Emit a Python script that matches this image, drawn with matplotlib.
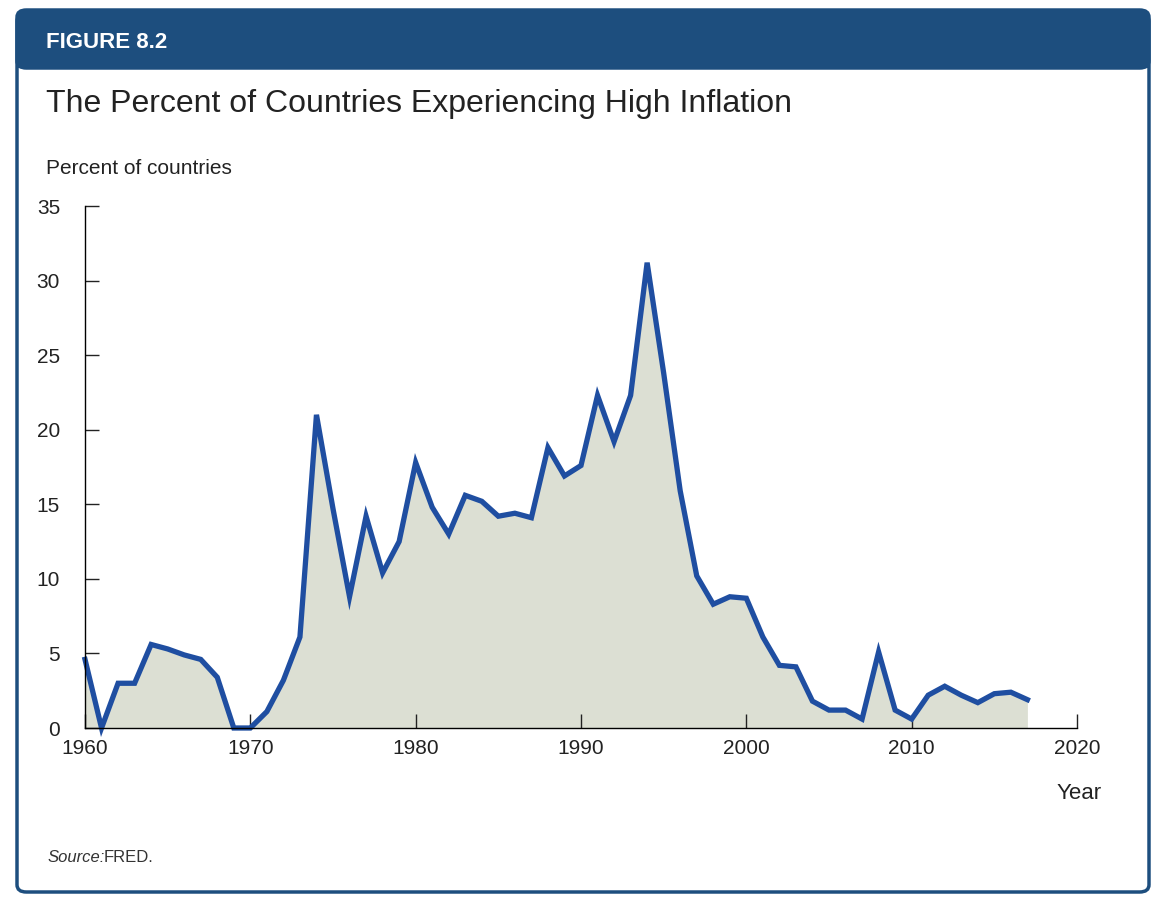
import matplotlib.pyplot as plt
from matplotlib.patches import FancyBboxPatch, Rectangle

plt.rcParams["font.family"] = ["Liberation Sans", "DejaVu Sans"]

years = list(range(1960, 2018))
pct = [4.6, 0.0, 3.0, 3.0, 5.6, 5.3, 4.9, 4.6, 3.4, 0.0,
       0.0, 1.1, 3.2, 6.1, 21.0, 14.7, 8.8, 14.2, 10.4, 12.5,
       17.8, 14.8, 13.0, 15.6, 15.2, 14.2, 14.4, 14.1, 18.8, 16.9,
       17.6, 22.3, 19.2, 22.3, 31.2, 23.8, 15.9, 10.2, 8.3, 8.8,
       8.7, 6.1, 4.2, 4.1, 1.8, 1.2, 1.2, 0.6, 5.1, 1.2,
       0.6, 2.2, 2.8, 2.2, 1.7, 2.3, 2.4, 1.9]
xticks = [1960, 1970, 1980, 1990, 2000, 2010, 2020]
yticks = [0, 5, 10, 15, 20, 25, 30, 35]

W, H = 1172, 902
fig = plt.figure(figsize=(W / 100, H / 100), dpi=100)

# frame and header band (kept behind the axes)
frame = FancyBboxPatch((17 / W, 10 / H), 1132 / W, 878 / H,
                       boxstyle="round,pad=0,rounding_size=0.008",
                       transform=fig.transFigure, facecolor="white",
                       edgecolor="#1d4e7e", linewidth=2.5, zorder=-10)
fig.patches.append(frame)
header = FancyBboxPatch((17 / W, (902 - 68) / H), 1132 / W, 58 / H,
                        boxstyle="round,pad=0,rounding_size=0.008",
                        transform=fig.transFigure, facecolor="#1d4e7e",
                        edgecolor="#1d4e7e", linewidth=2.5, zorder=-9)
fig.patches.append(header)
fig.patches.append(Rectangle((17 / W, (902 - 68) / H), 1132 / W, 20 / H,
                             transform=fig.transFigure, facecolor="#1d4e7e",
                             edgecolor="none", zorder=-8))
fig.text(46 / W, 1 - 42 / H, "FIGURE 8.2", color="white",
         fontsize=16, fontweight="bold", va="center", ha="left")
fig.text(46 / W, 1 - 104 / H, "The Percent of Countries Experiencing High Inflation",
         fontsize=23, color="#222222", va="center", ha="left")
fig.text(46 / W, 1 - 168 / H, "Percent of countries", fontsize=15,
         color="#222222", va="center", ha="left")
fig.text(48 / W, 1 - 857 / H, "Source:", fontsize=12, style="italic",
         color="#333333", va="center", ha="left")
fig.text(104 / W, 1 - 857 / H, "FRED.", fontsize=12,
         color="#333333", va="center", ha="left")

ax = fig.add_axes([85 / W, 1 - 728 / H, (1077 - 85) / W, (728 - 206) / H])
ax.fill_between(years, pct, 0, color="#dcdfd3", linewidth=0)
ax.plot(years, pct, color="#1f4ea1", linewidth=3.8, solid_joinstyle="miter",
        clip_on=False)
ax.set_xlim(1960, 2020)
ax.set_ylim(0, 35)
ax.set_xticks(xticks)
ax.set_yticks(yticks)
ax.tick_params(direction="in", length=10, width=1, labelsize=15,
               colors="#222222")
ax.tick_params(axis="y", pad=18)
ax.tick_params(axis="x", pad=8)
for s in ["top", "right"]:
    ax.spines[s].set_visible(False)
for s in ["left", "bottom"]:
    ax.spines[s].set_linewidth(1)
ax.patch.set_alpha(0)
ax.set_xlabel("Year", fontsize=16, color="#222222")
ax.xaxis.set_label_coords(1.025, -0.105)
ax.xaxis.label.set_ha("right")

fig.savefig("out.png", dpi=100)
